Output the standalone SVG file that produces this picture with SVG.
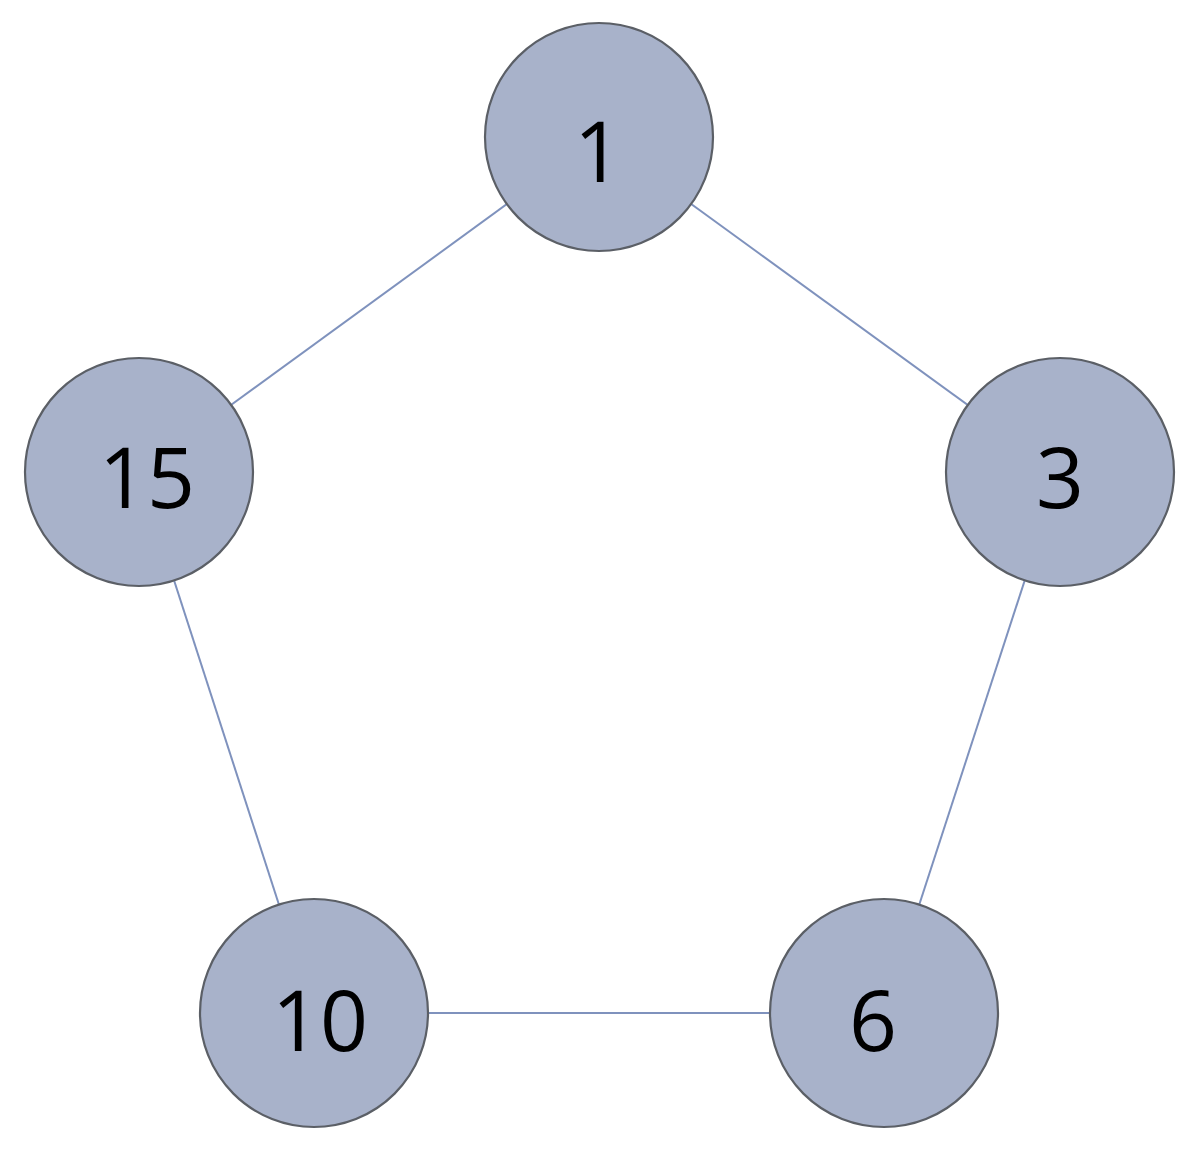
<svg xmlns="http://www.w3.org/2000/svg" width="1200" height="1153" viewBox="0 0 1200 1153">
<style>
.edge{stroke:#7f92bd;stroke-width:2;fill:none}
.node circle{fill:#a8b2ca;stroke:#5b5f66;stroke-width:2.2}
.node text{font-family:"Open Sans","Liberation Sans",sans-serif;font-size:84px;fill:#000;text-anchor:middle}
</style>
<rect width="1200" height="1153" fill="#fff"/>
<g id="connectors">
<line class="edge" x1="599" y1="137" x2="139" y2="472"/>
<line class="edge" x1="599" y1="137" x2="1060" y2="472"/>
<line class="edge" x1="139" y1="472" x2="314" y2="1013"/>
<line class="edge" x1="1060" y1="472" x2="884" y2="1013"/>
<line class="edge" x1="314" y1="1013" x2="884" y2="1013"/>
</g>
<g id="node-1" class="node"><circle cx="599" cy="137" r="114"/><text x="598" y="182">1</text></g>
<g id="node-15" class="node"><circle cx="139" cy="472" r="114"/><text x="147" y="508">15</text></g>
<g id="node-3" class="node"><circle cx="1060" cy="472" r="114"/><text x="1060" y="508">3</text></g>
<g id="node-10" class="node"><circle cx="314" cy="1013" r="114"/><text x="320" y="1051">10</text></g>
<g id="node-6" class="node"><circle cx="884" cy="1013" r="114"/><text x="873" y="1051">6</text></g>
</svg>
